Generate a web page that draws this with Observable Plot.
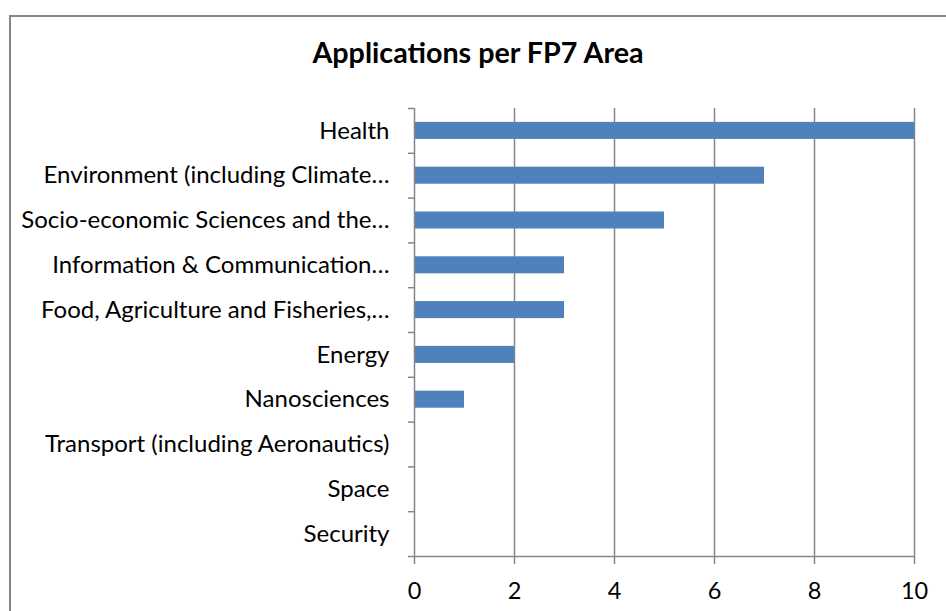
<!DOCTYPE html>
<html>
<head>
<meta charset="utf-8">
<script src="https://cdn.jsdelivr.net/npm/d3@7"></script>
<script src="https://cdn.jsdelivr.net/npm/@observablehq/plot@0.6"></script>
<style>
  html, body { margin: 0; padding: 0; background: #fff; }
  #wrap { position: relative; width: 946px; height: 611px; overflow: hidden; font-family: Lato, "Open Sans", sans-serif; }
  #frame { position: absolute; left: 9px; top: 15px; width: 1000px; height: 700px; border: 2px solid #868686; box-sizing: border-box; }
  #title { position: absolute; left: 0; width: 956px; top: 35px; text-align: center; font-weight: bold; font-size: 28.7px; color: #000; line-height: 1.2; }
  #chart { position: absolute; left: 0; top: 0; }
</style>
</head>
<body>
<div id="wrap">
  <div id="frame"></div>
  <div id="chart"></div>
  <div id="title">Applications per FP7 Area</div>
</div>
<script>
const categories = [
  "Health",
  "Environment (including Climate…",
  "Socio-economic Sciences and the…",
  "Information & Communication…",
  "Food, Agriculture and Fisheries,…",
  "Energy",
  "Nanosciences",
  "Transport (including Aeronautics)",
  "Space",
  "Security"
];
const values = [10, 7, 5, 3, 3, 2, 1, 0, 0, 0];
const xTicks = [0, 2, 4, 6, 8, 10];

const data = categories.map((c, i) => ({category: c, value: values[i]}));
const gray = "#868686";
const band = (556 - 108) / categories.length;

const chart = Plot.plot({
  width: 946,
  height: 611,
  marginLeft: 414,
  marginRight: 32,
  marginTop: 108,
  marginBottom: 55,
  style: {fontFamily: "Lato, 'Open Sans', sans-serif", fontSize: "24px", background: "transparent", overflow: "visible"},
  x: {domain: [0, 10], ticks: xTicks, label: null},
  y: {domain: categories, paddingInner: 0.62, paddingOuter: 0.31, round: false, label: null},
  marks: [
    Plot.ruleX(xTicks.filter(d => d > 0), {x: d => d, stroke: gray, strokeWidth: 1.5, insetBottom: -8}),
    Plot.barX(data, {y: "category", x: "value", fill: "#4F81BD"}),
    // y axis line
    Plot.ruleX([0], {stroke: gray, strokeWidth: 1.5, insetBottom: -8}),
    // x axis line
    Plot.ruleY([0], {y: () => categories[categories.length - 1], x1: -0.12, x2: 10, dy: band / 2, stroke: gray, strokeWidth: 1.5}),
    // category boundary ticks
    Plot.ruleY(categories, {y: d => d, x1: -0.12, x2: 0, dy: -band / 2, stroke: gray, strokeWidth: 1.5}),
    Plot.axisY({tickSize: 0, tickPadding: 25, fill: "#000", fontSize: 24, label: null}),
    Plot.axisX({ticks: xTicks, tickSize: 0, tickPadding: 26, fill: "#000", fontSize: 23.5, label: null, tickFormat: d => String(d)})
  ]
});
document.getElementById("chart").appendChild(chart);
</script>
</body>
</html>
